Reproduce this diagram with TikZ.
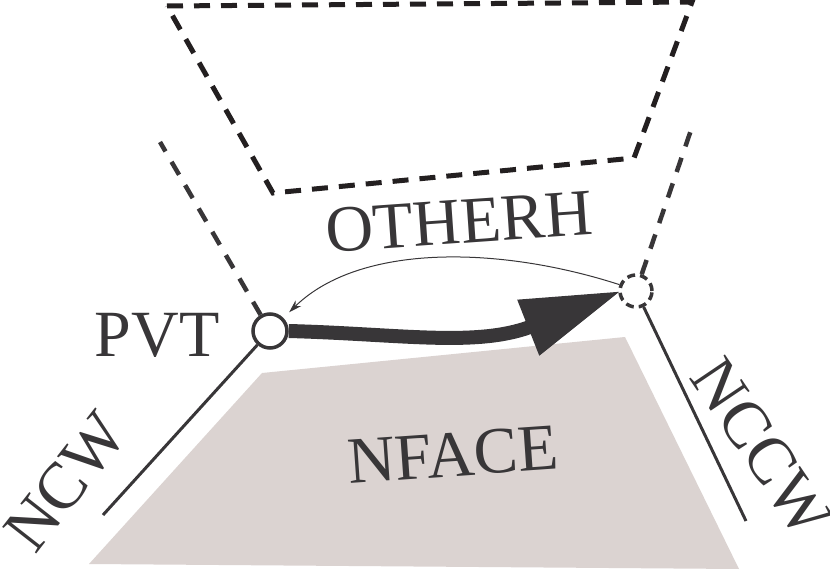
\documentclass[tikz,border=0pt]{standalone}
\usepackage{fontspec}
\setmainfont{Liberation Serif}
\usetikzlibrary{arrows.meta}
\definecolor{ink}{RGB}{56,54,56}
\definecolor{dk}{RGB}{35,31,32}
\definecolor{face}{RGB}{219,211,209}
\begin{document}
\begin{tikzpicture}[x=1pt,y=-1pt,
  lbl/.style={text=ink, font=\fontsize{66}{74}\selectfont, inner sep=0pt},
  vtx/.style={circle, draw=ink, line width=3.5pt, minimum size=34pt, inner sep=0pt, fill=white},
  vtxd/.style={circle, draw=ink, line width=3.5pt, minimum size=32pt, inner sep=0pt, dash pattern=on 8pt off 5pt},
  edgedash/.style={ink, line width=4.5pt, dash pattern=on 15pt off 12pt},
  edgesolid/.style={ink, line width=3pt},
  quad/.style={dk, line width=5pt, dash pattern=on 16pt off 11pt}]
\useasboundingbox (0,0) rectangle (830,577);
% shaded face
\fill[face] (262,373) -- (625,337) -- (739,569) -- (89,564) -- cycle;
% other face (dashed)
\draw[quad] (167,6) -- (692,2) -- (634,158) -- (273,193) -- cycle;
% vertices
\node[vtx] (pvt) at (270,331) {};
\node[vtxd] (rc) at (636,291) {};
\coordinate (lt) at (160,142);
\coordinate (rt) at (691,130);
\coordinate (ncwend) at (103,515);
\coordinate (nccwend) at (746,521);
\coordinate (bend) at (530,327);
% edges
\draw[edgedash] (pvt) -- (lt);
\draw[edgedash] (rc) -- (rt);
\draw[edgesolid] (pvt) -- (ncwend);
\draw[edgesolid] (rc) -- (nccwend);
% thick half-edge arrow
\draw[ink, line width=14pt, -{Triangle[length=100pt,width=56pt]}]
  (pvt.east) .. controls (400,334) and (475,347) .. (bend) -- ([xshift=3pt]rc.west);
% thin other half-edge arrow
\draw[ink, line width=1pt, shorten >=8pt, -{Stealth[length=13pt,width=8pt]}]
  (rc.159) .. controls (500,246) and (360,243) .. (pvt);
% labels
\node[lbl, rotate=4] (oth) at (459,222) {OTHERH};
\node[lbl] (pvtl) at (157,335) {PVT};
\node[lbl, rotate=4] (nf) at (453,455) {NFACE};
\node[lbl, rotate=52] (ncw) at (66,482) {NCW};
\node[lbl, rotate=-56] (nccw) at (762,448) {NCCW};
\end{tikzpicture}
\end{document}
